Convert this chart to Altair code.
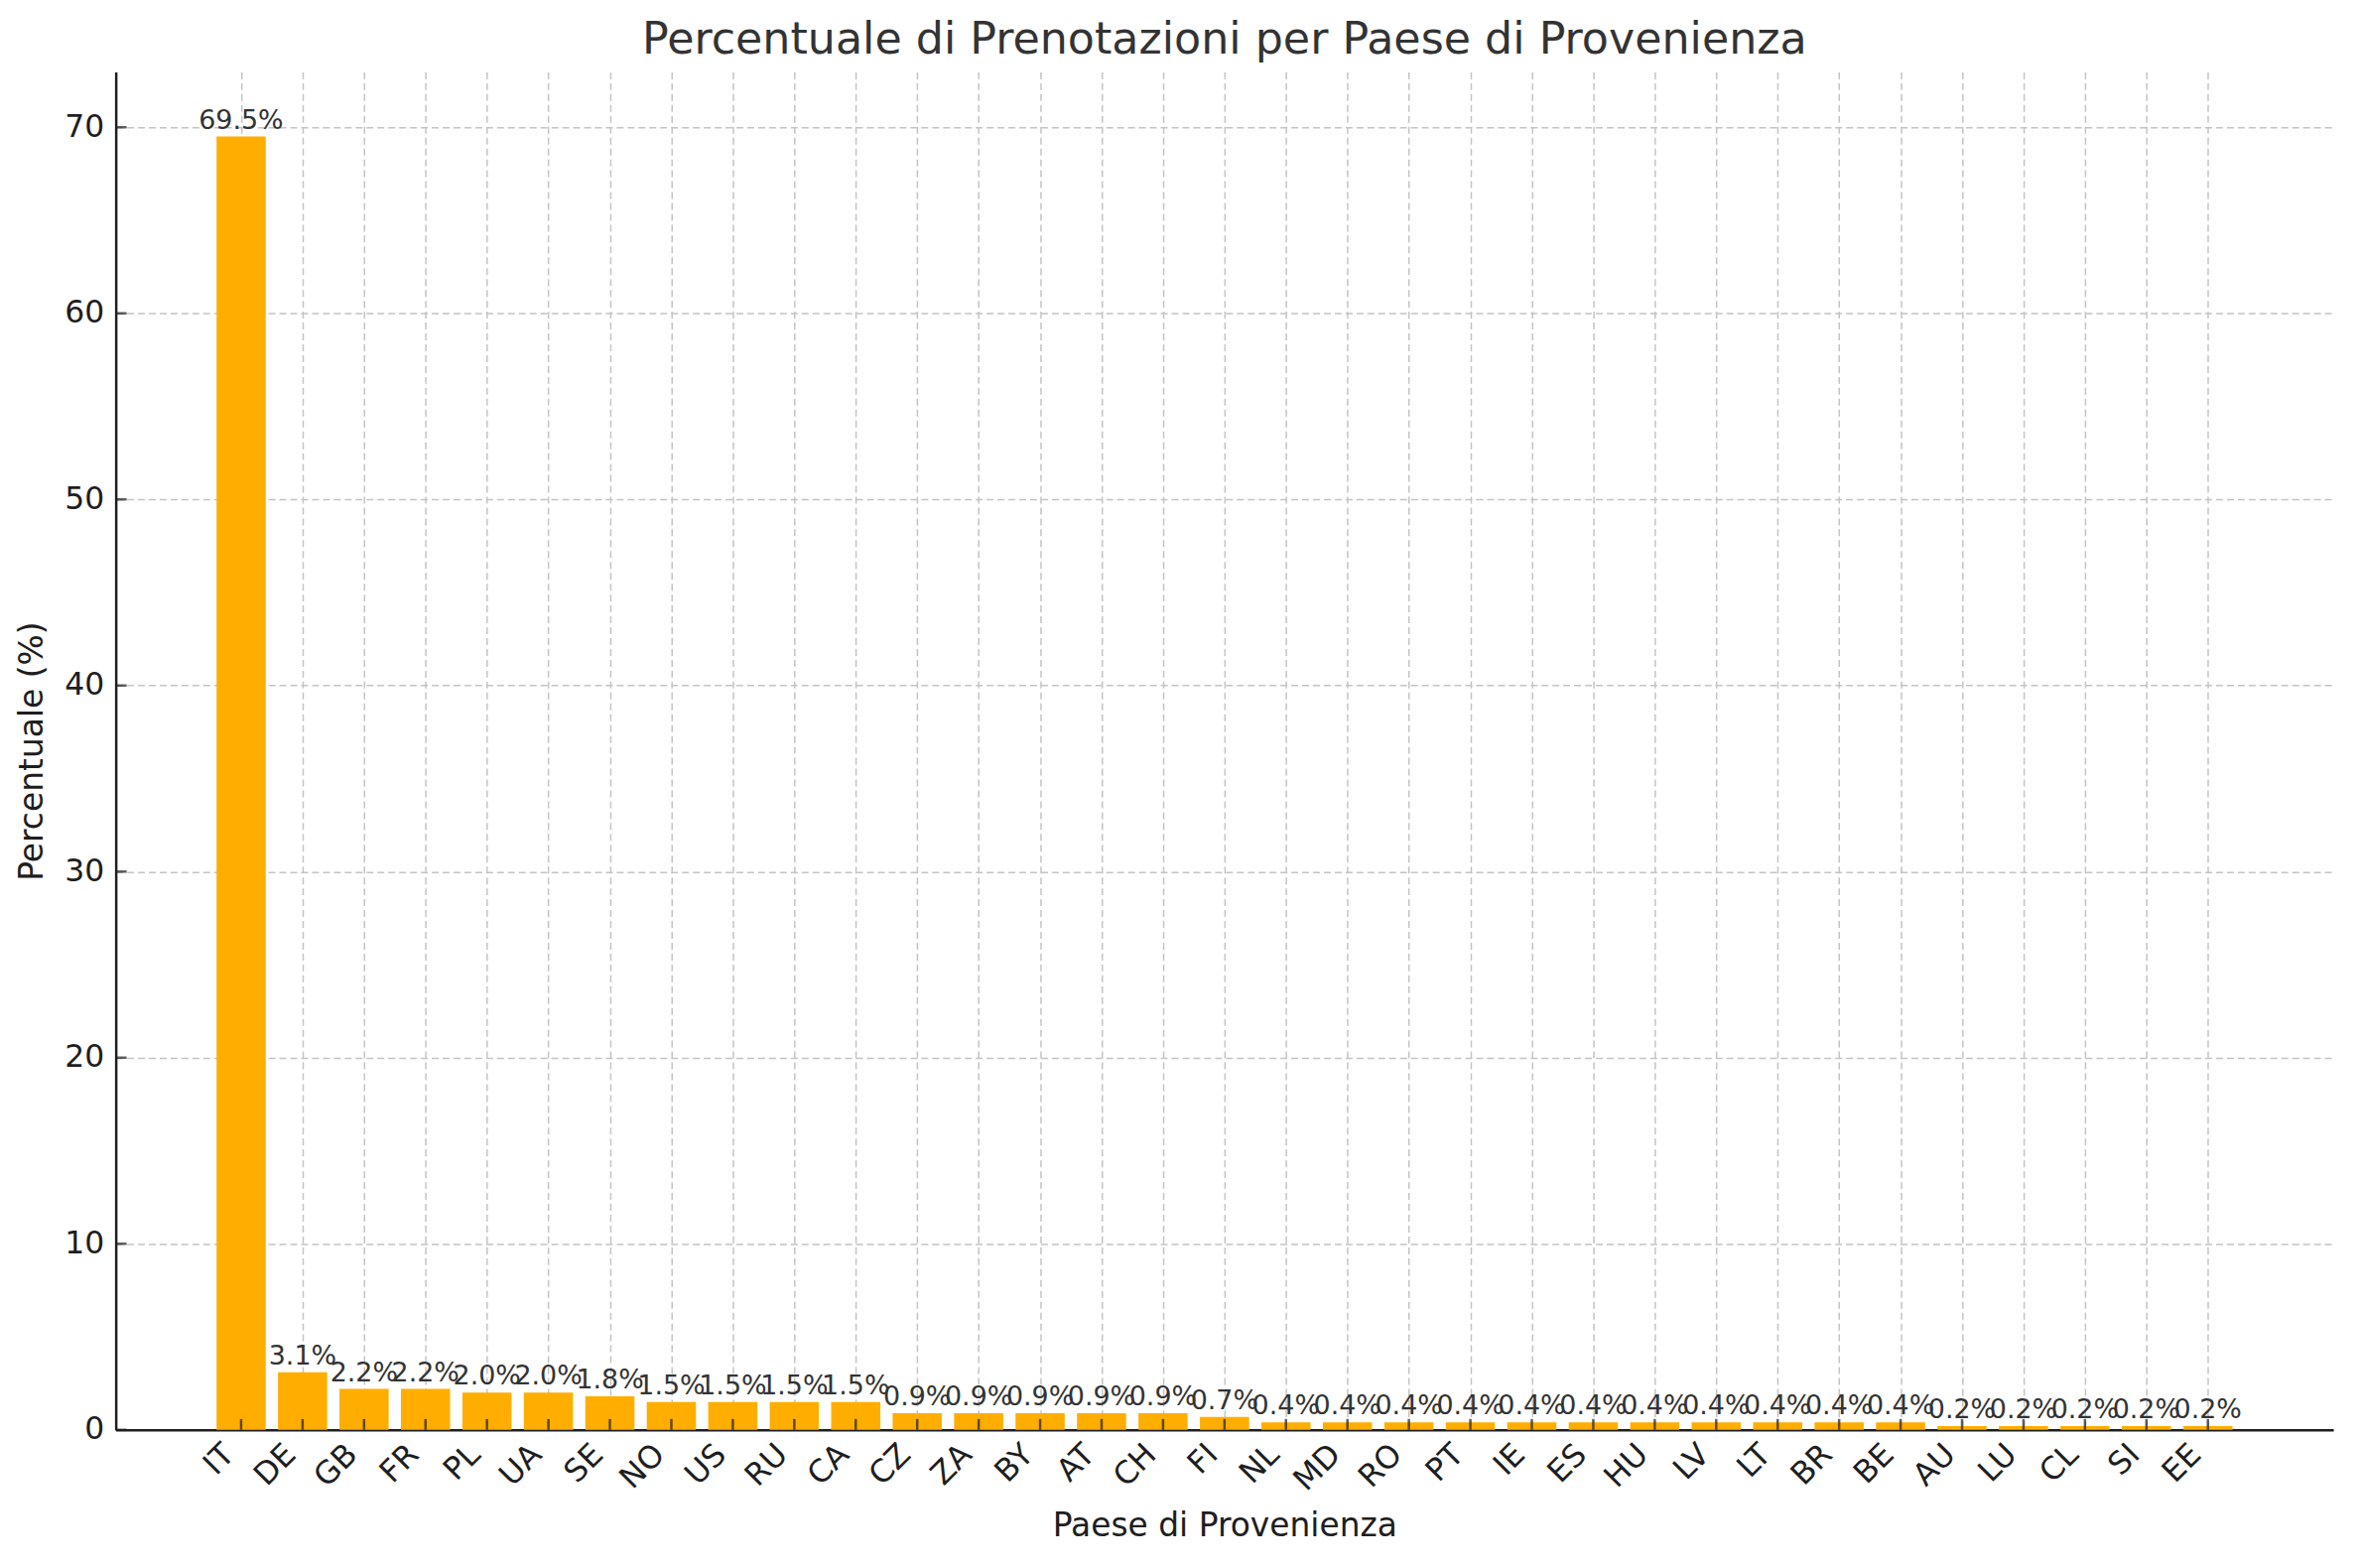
import json
import altair as alt
import pandas as pd

countries = ["IT", "DE", "GB", "FR", "PL", "UA", "SE", "NO", "US", "RU", "CA",
             "CZ", "ZA", "BY", "AT", "CH", "FI", "NL", "MD", "RO", "PT", "IE",
             "ES", "HU", "LV", "LT", "BR", "BE", "AU", "LU", "CL", "SI", "EE"]
percent = [69.5, 3.1, 2.2, 2.2, 2.0, 2.0, 1.8, 1.5, 1.5, 1.5, 1.5,
           0.9, 0.9, 0.9, 0.9, 0.9, 0.7, 0.4, 0.4, 0.4, 0.4, 0.4,
           0.4, 0.4, 0.4, 0.4, 0.4, 0.4, 0.2, 0.2, 0.2, 0.2, 0.2]
y_ticks = [0, 10, 20, 30, 40, 50, 60, 70]

FONT = "DejaVu Sans"
BAR_COLOR = "#FFAE00"
DARK = "#1e1e1e"

n = len(countries)
df = pd.DataFrame({"Paese": countries, "pct": percent, "idx": list(range(n))})
ticks_df = pd.DataFrame({"pct": y_ticks})

# matplotlib-like: bar width 0.8, 5% margins on the x data range
x_lo = -0.4 - 0.05 * (n - 1 + 0.8)
x_hi = (n - 1) + 0.4 + 0.05 * (n - 1 + 0.8)
x_scale = alt.Scale(domain=[x_lo, x_hi], nice=False, zero=False)
y_scale = alt.Scale(domain=[0, max(percent) * 1.05], nice=False, zero=True)

label_expr = json.dumps(countries) + "[round(datum.value)]"

x_axis = alt.Axis(
    title="Paese di Provenienza", values=list(range(n)), labelExpr=label_expr,
    labelAngle=315, labelAlign="right", labelBaseline="middle",
    labelOffset=-12, labelPadding=20, labelOverlap=False, labelBound=False,
    labelFlush=False, titleY=97, titleBaseline="middle",
)
y_axis = alt.Axis(
    title="Percentuale (%)", values=y_ticks, labelPadding=12,
    titleX=-84, titleY=686.5, titleAngle=270, titleBaseline="middle",
)

base = alt.Chart(df).transform_calculate(
    x0="datum.idx - 0.4", x1="datum.idx + 0.4",
    lab="format(datum.pct, '.1f') + '%'",
)

bars = base.mark_bar(color=BAR_COLOR).encode(
    x=alt.X("x0:Q", scale=x_scale, axis=x_axis),
    x2="x1:Q",
    y=alt.Y("pct:Q", scale=y_scale, axis=y_axis),
    y2=alt.datum(0),
)

labels = base.mark_text(
    baseline="bottom", dy=-2, fontSize=27, font=FONT, color="#333333"
).encode(
    x=alt.X("idx:Q", scale=x_scale),
    y=alt.Y("pct:Q", scale=y_scale),
    text="lab:N",
)

xticks = base.mark_tick(
    orient="vertical", size=11, thickness=2.5, color=DARK, yOffset=-5.5
).encode(
    x=alt.X("idx:Q", scale=x_scale),
    y=alt.datum(0),
)

yticks = alt.Chart(ticks_df).mark_tick(
    orient="horizontal", size=11, thickness=2.5, color=DARK, xOffset=5.5
).encode(
    y=alt.Y("pct:Q", scale=y_scale),
    x=alt.value(0),
)

chart = alt.layer(bars, labels, xticks, yticks).properties(
    width=2242,
    height=1373,
    title=alt.Title(
        "Percentuale di Prenotazioni per Paese di Provenienza",
        fontSize=44.5, font=FONT, fontWeight="normal", color="#333333",
        anchor="middle", baseline="alphabetic", offset=17, dy=43,
        frame="group",
    ),
    autosize=alt.AutoSizeParams(type="none"),
    padding={"left": 109, "top": 62, "right": 20, "bottom": 129},
).configure_axis(
    zindex=1,
    grid=True,
    gridColor="#c4c4c4",
    gridDash=[7, 4],
    gridWidth=1.5,
    domainColor=DARK,
    domainWidth=2.5,
    ticks=False,
    labelFont=FONT,
    labelFontSize=31.5,
    labelColor=DARK,
    titleFont=FONT,
    titleFontSize=33,
    titleFontWeight="normal",
    titleColor=DARK,
).configure_view(
    strokeWidth=0
)

chart.save("out.html", embed_options={"renderer": "svg", "actions": False})
